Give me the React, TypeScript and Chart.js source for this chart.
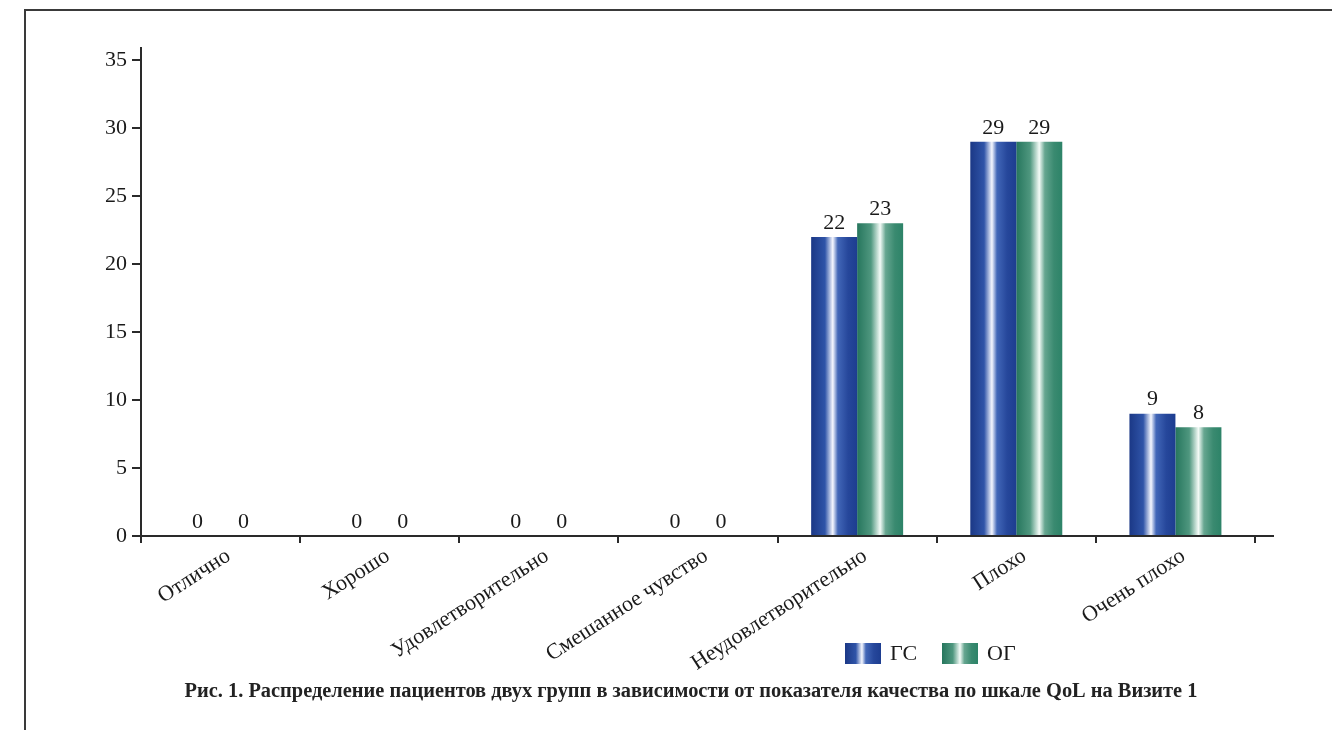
import { useEffect, useRef } from "react";
import { Chart, registerables } from "chart.js";

Chart.register(...registerables);

const categories = [
  "Отлично",
  "Хорошо",
  "Удовлетворительно",
  "Смешанное чувство",
  "Неудовлетворительно",
  "Плохо",
  "Очень плохо",
];
const seriesGS = [0, 0, 0, 0, 22, 29, 9];
const seriesOG = [0, 0, 0, 0, 23, 29, 8];
const seriesNames = ["ГС", "ОГ"];
const yTickValues = [0, 5, 10, 15, 20, 25, 30, 35];
const captionText =
  "Рис. 1. Распределение пациентов двух групп в зависимости от показателя качества по шкале QoL на Визите 1";

const FONT = "'Liberation Serif', 'DejaVu Serif', serif";
const INK = "#1a1a1a";

type Stop = [number, string];
const BLUE_STOPS: Stop[] = [
  [0, "#1b3886"],
  [0.3, "#2f54a8"],
  [0.47, "#f6f8ff"],
  [0.58, "#4267b8"],
  [0.8, "#26479b"],
  [1, "#1d3d90"],
];
const GREEN_STOPS: Stop[] = [
  [0, "#26765d"],
  [0.3, "#4f977f"],
  [0.5, "#f4fbf7"],
  [0.62, "#66a690"],
  [0.82, "#3a8a70"],
  [1, "#2d8368"],
];

function makeGrad(ctx: CanvasRenderingContext2D, x0: number, x1: number, stops: Stop[]) {
  const g = ctx.createLinearGradient(x0, 0, x1, 0);
  stops.forEach(([o, c]) => g.addColorStop(o, c));
  return g;
}

function barFill(stops: Stop[], solid: string) {
  return (c: any) => {
    const el = c.element;
    if (!el || typeof el.x !== "number" || typeof el.width !== "number" || isNaN(el.x) || isNaN(el.width)) {
      return solid;
    }
    return makeGrad(c.chart.ctx, el.x - el.width / 2, el.x + el.width / 2, stops);
  };
}

const decorPlugin = {
  id: "decor",
  beforeDraw(chart: any) {
    const ctx = chart.ctx as CanvasRenderingContext2D;
    ctx.save();
    ctx.fillStyle = "#ffffff";
    ctx.fillRect(0, 0, chart.width, chart.height);
    // frame
    ctx.strokeStyle = "#3a3a3a";
    ctx.lineWidth = 2;
    ctx.beginPath();
    ctx.moveTo(25, chart.height);
    ctx.lineTo(25, 10);
    ctx.lineTo(chart.width, 10);
    ctx.stroke();
    ctx.restore();
  },
  afterDatasetsDraw(chart: any) {
    const ctx = chart.ctx as CanvasRenderingContext2D;
    ctx.save();
    ctx.font = `22px ${FONT}`;
    ctx.fillStyle = INK;
    ctx.textAlign = "center";
    ctx.textBaseline = "bottom";
    chart.data.datasets.forEach((ds: any, di: number) => {
      const meta = chart.getDatasetMeta(di);
      meta.data.forEach((el: any, i: number) => {
        ctx.fillText(String(ds.data[i]), el.x, el.y - 3);
      });
    });
    ctx.restore();
  },
  afterDraw(chart: any) {
    const ctx = chart.ctx as CanvasRenderingContext2D;
    const area = chart.chartArea;
    ctx.save();
    // x-axis line extension beyond last tick
    ctx.strokeStyle = "#2a2a2a";
    ctx.lineWidth = 2;
    ctx.beginPath();
    ctx.moveTo(area.right - 1, area.bottom);
    ctx.lineTo(area.right + 19, area.bottom);
    ctx.stroke();

    // legend
    const ly = area.bottom + 107;
    const boxW = 36;
    const boxH = 21;
    const items = [
      { x: 845, stops: BLUE_STOPS, label: seriesNames[0] },
      { x: 942, stops: GREEN_STOPS, label: seriesNames[1] },
    ];
    ctx.font = `22px ${FONT}`;
    ctx.textBaseline = "middle";
    ctx.textAlign = "left";
    items.forEach((it) => {
      ctx.fillStyle = makeGrad(ctx, it.x, it.x + boxW, it.stops);
      ctx.fillRect(it.x, ly, boxW, boxH);
      ctx.fillStyle = INK;
      ctx.fillText(it.label, it.x + boxW + 9, ly + boxH / 2 + 1);
    });

    // caption
    ctx.font = `bold 20.4px ${FONT}`;
    ctx.textAlign = "center";
    ctx.textBaseline = "alphabetic";
    ctx.fillStyle = "#222222";
    ctx.fillText(captionText, 691, 697);
    ctx.restore();
  },
};

export default function App() {
  const ref = useRef<HTMLCanvasElement | null>(null);

  useEffect(() => {
    if (!ref.current) return;
    const chart = new Chart(ref.current, {
      type: "bar",
      data: {
        labels: categories,
        datasets: [
          {
            label: seriesNames[0],
            data: seriesGS,
            backgroundColor: barFill(BLUE_STOPS, "#24479b"),
            borderWidth: 0,
          },
          {
            label: seriesNames[1],
            data: seriesOG,
            backgroundColor: barFill(GREEN_STOPS, "#338a6e"),
            borderWidth: 0,
          },
        ],
      },
      options: {
        responsive: false,
        animation: false,
        devicePixelRatio: 1,
        layout: { padding: { left: 0, right: 77, top: 48, bottom: 0 } },
        plugins: {
          legend: { display: false },
          title: { display: false },
          tooltip: { enabled: false },
        },
        datasets: {
          bar: { categoryPercentage: 0.578, barPercentage: 1.0 },
        },
        scales: {
          x: {
            type: "category",
            offset: true,
            grid: {
              display: true,
              offset: true,
              drawOnChartArea: false,
              drawTicks: true,
              tickLength: 7,
              color: "#2a2a2a",
              lineWidth: 2,
            },
            border: { display: true, color: "#2a2a2a", width: 2 },
            ticks: {
              minRotation: 33,
              maxRotation: 33,
              autoSkip: false,
              padding: 0,
              labelOffset: 8,
              color: INK,
              font: { family: FONT, size: 22 },
            },
            afterFit: (s: any) => {
              s.height = 194;
            },
          },
          y: {
            type: "linear",
            min: 0,
            max: 35.9,
            afterBuildTicks: (s: any) => {
              s.ticks = yTickValues.map((v) => ({ value: v }));
            },
            grid: {
              display: true,
              drawOnChartArea: false,
              drawTicks: true,
              tickLength: 9,
              color: "#2a2a2a",
              lineWidth: 2,
            },
            border: { display: true, color: "#2a2a2a", width: 2 },
            ticks: {
              padding: 5,
              color: INK,
              font: { family: FONT, size: 22 },
              callback: (v: any) => String(v),
            },
            afterFit: (s: any) => {
              s.width = 141;
            },
          },
        },
      },
      plugins: [decorPlugin],
    });
    chart.update();
    return () => chart.destroy();
  }, []);

  return (
    <div style={{ position: "absolute", left: 0, top: 0, width: 1332, height: 730, background: "#fff" }}>
      <canvas ref={ref} width={1332} height={730} style={{ display: "block", width: 1332, height: 730 }} />
    </div>
  );
}
